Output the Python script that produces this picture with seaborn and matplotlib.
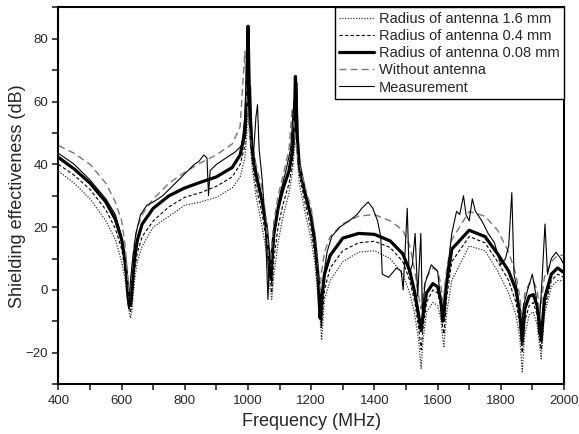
import numpy as np
import pandas as pd
import seaborn as sns
import matplotlib.pyplot as plt
from matplotlib.ticker import MultipleLocator

# frequency grid of the simulated curves (MHz)
freq_sim = [400, 450, 500, 550, 580, 600, 610, 616, 620, 624,
            628, 632, 636, 642, 650, 665, 700, 750, 800, 850,
            900, 950, 975, 990, 995, 1000, 1005, 1012, 1025, 1045,
            1058, 1065, 1070, 1075, 1082, 1095, 1110, 1130, 1140, 1146,
            1150, 1155, 1162, 1180, 1200, 1212, 1222, 1228, 1233, 1242,
            1260, 1300, 1350, 1400, 1450, 1490, 1512, 1528, 1540, 1548,
            1554, 1565, 1585, 1600, 1610, 1616, 1620, 1628, 1645, 1700,
            1750, 1790, 1825, 1848, 1860, 1868, 1876, 1890, 1903, 1915,
            1922, 1928, 1938, 1960, 1980, 2000]

se_r16 = [37.8, 34, 29, 22, 16, 9, 4, -1, -4, -7,
          -9, -7, -2, 4, 9, 14, 20, 23.5, 27, 28,
          29.5, 32.5, 36, 42, 48, 60, 50, 40, 30, 20,
          12, 5, 0, -3, 5, 15, 23, 31, 37, 44,
          55, 44, 34, 25, 16, 8, -3, -9, -16, -3,
          3, 9, 12, 12.5, 10, 5, -1, -8, -16, -25,
          -16, -7, -4, -5, -9, -15, -18, -8, 3, 14,
          12.5, 6, -1, -8, -15, -26, -14, -8, -7, -11,
          -17, -22, -8, 1, 3, 3]

se_r04 = [40, 36.5, 32, 25.5, 19.5, 13, 7, 1, -3, -6,
          -7, -4, 1, 7, 12, 17, 22, 26.5, 29.5, 31,
          33, 36, 40, 46, 54, 70, 52, 42, 33, 24,
          16, 9, 4, -1, 10, 20, 27, 34, 40, 48,
          62, 46, 37, 28, 19, 11, 0, -7, -11, 0,
          7, 12.5, 15, 15.5, 13.5, 9, 3, -4, -12, -19,
          -12, -4, 0, -1, -5, -12, -14, -3, 9, 17,
          15, 9, 3, -4, -11, -20, -10, -5, -4, -8,
          -14, -19, -6, 3, 5, 4]

se_r008 = [42.2, 38.5, 34, 28, 22.5, 16, 10, 4, -2, -5,
           -5, -1, 5, 11, 16, 21, 26, 30, 32.5, 34.3,
           36, 39, 43, 50, 60, 84, 58, 46, 37, 28,
           20, 12, 4, 10, 18, 26, 32, 38, 44, 52,
           68, 50, 40, 31, 23, 15, 4, -9, -3, 5,
           11, 16.5, 18, 17.7, 15.6, 11.5, 6, -1, -8, -13,
           -8, -1, 2, 1, -3, -10, -8, 2, 13, 19,
           17, 11.5, 6, 0, -7, -16.5, -6, -2, -1.5, -5,
           -10, -16, -3, 5, 7, 5.5]

se_none = [46, 43.5, 40, 34, 28, 22, 15, 8, 2, -3,
           1, 6, 11, 16, 20, 24, 29, 34, 37.5, 40.5,
           43, 46.5, 52, 76, 62, 55, 50, 46, 40, 32,
           22, 10, 6, 14, 22, 30, 36, 45, 58, 52,
           48, 44, 40, 33, 26, 18, 4, 0, 6, 12,
           17, 21, 23.5, 24, 22, 19, 14, 6, -2, -6,
           -1, 4, 7, 6, 2, -4, -2, 6, 16, 25,
           23.5, 19, 12, 5, -2, -10, -1, 2, 3, 0,
           -6, -4, 4, 9, 11, 11]

# measured curve
freq_meas = [400, 450, 500, 550, 580, 600, 610, 618, 622, 628, 635, 645, 660, 680,
             700, 730, 760, 790, 810, 830, 845, 860, 870, 875, 880, 900, 930, 960,
             980, 990, 995, 1000, 1003, 1008, 1015, 1025, 1030, 1035, 1045, 1055,
             1063, 1068, 1075, 1085, 1100, 1120, 1135, 1145, 1150, 1155, 1160, 1170,
             1190, 1210, 1225, 1232, 1240, 1250, 1265, 1290, 1320, 1345, 1360, 1380,
             1395, 1410, 1420, 1425, 1445, 1470, 1485, 1491, 1504, 1510, 1520, 1529,
             1537, 1547, 1552, 1560, 1580, 1600, 1615, 1630, 1645, 1660, 1670, 1682,
             1690, 1700, 1710, 1720, 1740, 1760, 1780, 1800, 1815, 1825, 1835, 1842,
             1852, 1864, 1872, 1885, 1900, 1912, 1920, 1930, 1940, 1948, 1960, 1975,
             1990, 2000]

se_meas = [43.5, 40, 35, 29, 24, 17, 8, 0, -6, 3, 10, 18, 24, 27,
           28, 30, 33, 36, 38, 40, 41, 43, 42, 30, 38, 40, 42, 44,
           46, 55, 70, 80, 60, 65, 40, 55, 59, 45, 35, 20,
           -3, 10, 2, 20, 30, 38, 45, 60, 55, 66, 40, 35,
           28, 18, 0, -12, 5, 12, 17, 20, 22, 24, 26, 28,
           26, 22, 17, 5, 4, 7, 6, 0, 26, 5, 8, 18,
           -2, 18, -8, 2, 8, 6, -8, 5, 18, 25, 24, 30,
           24, 22, 29, 25, 22, 18, 15, 8, 10, 14, 31, 5,
           0, -14, -5, 0, 5, -2, -14, 2, 21, 5, 10, 12,
           10, 8]

sim = pd.DataFrame({'Frequency': freq_sim, 'r16': se_r16, 'r04': se_r04,
                    'r008': se_r008, 'none': se_none})
meas = pd.DataFrame({'Frequency': freq_meas, 'SE': se_meas})

sns.set_style('ticks')
plt.rcParams['font.family'] = ['Liberation Sans', 'DejaVu Sans']

fig, ax = plt.subplots(figsize=(5.79, 4.34), dpi=100)
fig.subplots_adjust(left=0.101, right=0.974, top=0.983, bottom=0.115)

sns.lineplot(data=sim, x='Frequency', y='r16', ax=ax, color='#333333', lw=0.9,
             linestyle=(0, (1, 1.2)), label='Radius of antenna 1.6 mm',
             estimator=None, errorbar=None)
sns.lineplot(data=sim, x='Frequency', y='r04', ax=ax, color='black', lw=0.8,
             linestyle=(0, (3, 2)), label='Radius of antenna 0.4 mm',
             estimator=None, errorbar=None)
sns.lineplot(data=sim, x='Frequency', y='r008', ax=ax, color='black', lw=2.3,
             label='Radius of antenna 0.08 mm', estimator=None, errorbar=None)
sns.lineplot(data=sim, x='Frequency', y='none', ax=ax, color='#777777', lw=1.0,
             linestyle=(0, (5, 3)), label='Without antenna',
             estimator=None, errorbar=None)
sns.lineplot(data=meas, x='Frequency', y='SE', ax=ax, color='black', lw=0.8,
             label='Measurement', estimator=None, errorbar=None)

ax.set_xlim(400, 2000)
ax.set_ylim(-30, 90)
ax.xaxis.set_major_locator(MultipleLocator(200))
ax.xaxis.set_minor_locator(MultipleLocator(100))
ax.yaxis.set_major_locator(MultipleLocator(20))
ax.yaxis.set_minor_locator(MultipleLocator(10))
ax.tick_params(which='both', direction='out', length=4, width=1.2,
               labelsize=9.5, top=False, right=False)
for s in ax.spines.values():
    s.set_linewidth(1.5)
    s.set_color('black')

ax.set_xlabel('Frequency (MHz)', fontsize=13, labelpad=5)
ax.set_ylabel('Shielding effectiveness (dB)', fontsize=13, labelpad=0)

leg = ax.legend(loc='upper right', borderaxespad=0, fancybox=False,
                edgecolor='black', framealpha=1, fontsize=10.5,
                handlelength=2.4, handletextpad=0.3, labelspacing=0.22,
                borderpad=0.3)
leg.get_frame().set_linewidth(1.0)

plt.savefig('out.png', dpi=100)
